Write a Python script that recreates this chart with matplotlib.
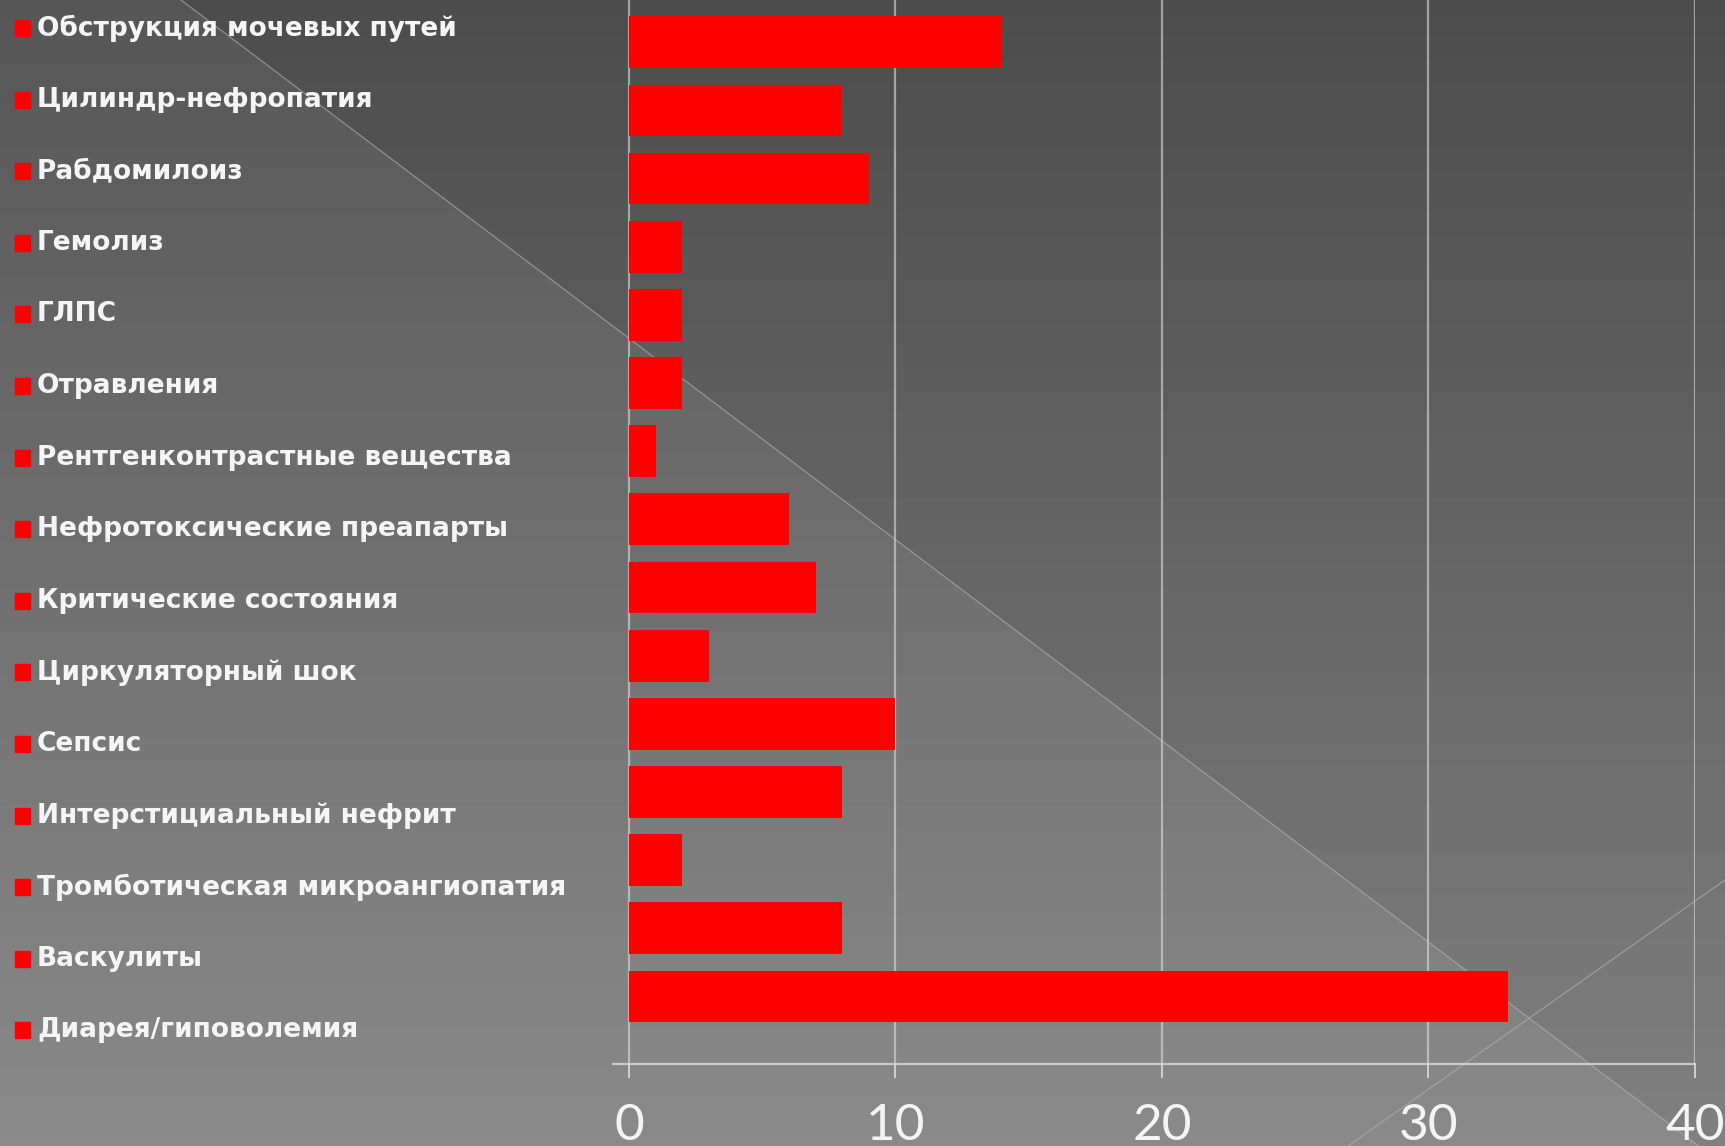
import numpy as np
import matplotlib
matplotlib.use("Agg")
import matplotlib.pyplot as plt
from matplotlib.patches import Rectangle
from matplotlib.lines import Line2D

W, H = 1725, 1146

categories = [
    "Обструкция мочевых путей",
    "Цилиндр-нефропатия",
    "Рабдомилоиз",
    "Гемолиз",
    "ГЛПС",
    "Отравления",
    "Рентгенконтрастные вещества",
    "Нефротоксические преапарты",
    "Критические состояния",
    "Циркуляторный шок",
    "Сепсис",
    "Интерстициальный нефрит",
    "Тромботическая микроангиопатия",
    "Васкулиты",
    "Диарея/гиповолемия",
]
values = [14, 8, 9, 2, 2, 2, 1, 6, 7, 3, 10, 8, 2, 8, 33]
x_ticks = [0, 10, 20, 30, 40]

fig = plt.figure(figsize=(W / 100, H / 100), dpi=100)

# background: vertical gradient, darker triangle above the diagonal
bg = fig.add_axes([0, 0, 1, 1], zorder=-10)
yy, xx = np.mgrid[0:H, 0:W]
t = yy / H
light = 86 + 52 * t
shade = np.where(yy < 0.755 * (xx - 181), light - 10, light)
bg.imshow(shade, cmap="gray", vmin=0, vmax=255, aspect="auto",
          extent=[0, W, H, 0], interpolation="bilinear")
bg.set_xlim(0, W)
bg.set_ylim(H, 0)
bg.axis("off")
bg.add_line(Line2D([181, 1725], [0, 1166], color="#b0b0b0", lw=0.8, alpha=0.7))
bg.add_line(Line2D([1348, 1725], [1146, 880], color="#b0b0b0", lw=0.8, alpha=0.7))

# main bar chart
ax = fig.add_axes([613 / W, 1 - 1064 / H, (1695 - 613) / W, 1064 / H])
ax.set_facecolor("none")
ypos = np.arange(len(categories))
ax.barh(ypos, values, height=0.76, color="#ff0000", zorder=3)
ax.set_xlim(-0.6, 40)
ax.set_ylim(len(categories) - 0.01, -0.62)

grid_c = "#dcdcdc"
ax.set_xticks(x_ticks)
ax.set_xticklabels([str(v) for v in x_ticks])
ax.set_yticks([])
ax.grid(axis="x", color=grid_c, lw=1.6, alpha=0.6, zorder=1)
ax.tick_params(axis="x", direction="out", length=10, width=1.2,
               color=grid_c, pad=18, labelsize=37, labelcolor="#f4f4f4")
for lab in ax.get_xticklabels():
    lab.set_fontfamily("Lato")
    lab.set_fontweight("normal")
for s in ["top", "right", "left"]:
    ax.spines[s].set_visible(False)
ax.spines["bottom"].set_color(grid_c)
ax.spines["bottom"].set_linewidth(1.6)
ax.spines["bottom"].set_alpha(0.8)

# category list on the left with red square markers
label_y0, label_step = 28.0, 71.6
for i, name in enumerate(categories):
    yc = label_y0 + i * label_step
    fig.text(37 / W, 1 - yc / H, name, ha="left", va="center",
             fontsize=19, fontweight="bold", color="#f5f5f5",
             family=["DejaVu Sans"])
    fig.patches.append(Rectangle((15 / W, 1 - (yc + 8) / H), 15 / W, 16 / H,
                                 transform=fig.transFigure, color="#ff0000"))

fig.savefig("out.png", dpi=100)
